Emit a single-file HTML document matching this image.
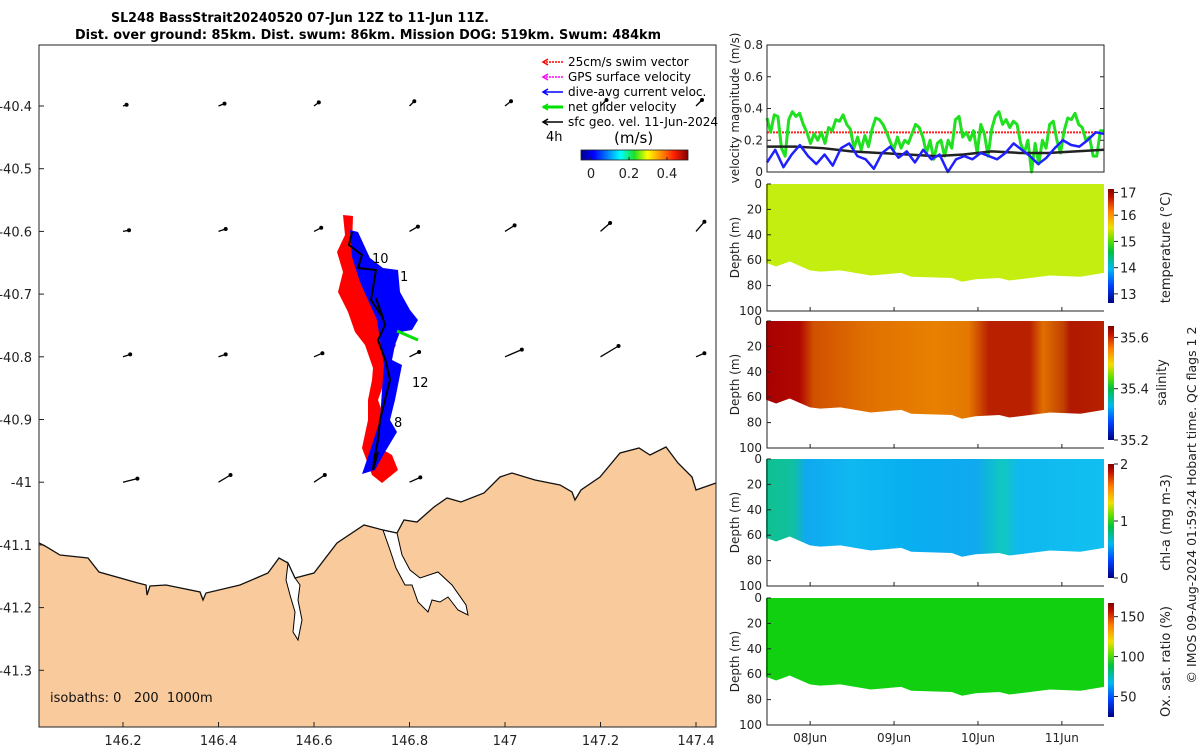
<!DOCTYPE html>
<html><head><meta charset="utf-8"><style>
body{margin:0;background:#fff;}
svg{display:block;font-family:"DejaVu Sans","Liberation Sans",sans-serif;}
</style></head><body>
<svg id="s" width="1200" height="750" viewBox="0 0 1200 750" xmlns="http://www.w3.org/2000/svg">
<defs>
<linearGradient id="jetH" x1="0" x2="1" y1="0" y2="0">
<stop offset="0" stop-color="#00008f"/><stop offset=".12" stop-color="#0000ff"/><stop offset=".37" stop-color="#00ffff"/><stop offset=".5" stop-color="#20e020"/><stop offset=".62" stop-color="#ffff00"/><stop offset=".87" stop-color="#ff2000"/><stop offset="1" stop-color="#800000"/>
</linearGradient>
<linearGradient id="jetV" x1="0" x2="0" y1="1" y2="0">
<stop offset="0" stop-color="#000080"/><stop offset=".15" stop-color="#0040ff"/><stop offset=".3" stop-color="#00b8f0"/><stop offset=".45" stop-color="#00c040"/><stop offset=".55" stop-color="#60e000"/><stop offset=".66" stop-color="#f0e000"/><stop offset=".8" stop-color="#ff8000"/><stop offset=".93" stop-color="#c01000"/><stop offset="1" stop-color="#800000"/>
</linearGradient>
<linearGradient id="salG" x1="0" x2="1" y1="0" y2="0">
<stop offset="0" stop-color="#a80000"/><stop offset=".1" stop-color="#b00800"/><stop offset=".14" stop-color="#d05000"/><stop offset=".3" stop-color="#e07000"/><stop offset=".5" stop-color="#e88000"/><stop offset=".6" stop-color="#e47800"/><stop offset=".66" stop-color="#b82000"/><stop offset=".78" stop-color="#b82000"/><stop offset=".82" stop-color="#e07000"/><stop offset=".88" stop-color="#c04000"/><stop offset=".9" stop-color="#b01800"/><stop offset="1" stop-color="#b82000"/>
</linearGradient>
<linearGradient id="chlG" x1="0" x2="1" y1="0" y2="0">
<stop offset="0" stop-color="#10c090"/><stop offset=".08" stop-color="#10c0a0"/><stop offset=".12" stop-color="#10a8f0"/><stop offset=".25" stop-color="#10b8f0"/><stop offset=".4" stop-color="#08b0f0"/><stop offset=".62" stop-color="#10a8f0"/><stop offset=".7" stop-color="#10c8c0"/><stop offset=".75" stop-color="#10b8f0"/><stop offset="1" stop-color="#10c0f0"/>
</linearGradient>
</defs>
<g id="map"></g>
<g id="right"></g>
</svg>
<script>
const NS="http://www.w3.org/2000/svg";
function mk(parent,tag,attrs,text){const e=document.createElementNS(NS,tag);for(const k in attrs)e.setAttribute(k,attrs[k]);if(text!==undefined)e.textContent=text;parent.appendChild(e);return e;}
const S=document.getElementById('s');
const M=document.getElementById('map');
const R=document.getElementById('right');

// ---------- map data ----------
const latTicks=[-40.4,-40.5,-40.6,-40.7,-40.8,-40.9,-41,-41.1,-41.2,-41.3];
const lonTicks=[146.2,146.4,146.6,146.8,147,147.2,147.4];
const vecLons=[146.2,146.4,146.6,146.8,147.0,147.2,147.4];
const vecLats=[-40.4,-40.6,-40.8,-41.0];
const vecU=[[0.03,0.05,0.04,0.04,0.05,0.05,0.05],[0.05,0.06,0.06,0.07,0.08,0.08,0.07],[0.06,0.06,0.07,0.08,0.14,0.15,0.07],[0.12,0.1,0.09,0.09,0,0,0]];
const vecV=[[0.01,0.02,0.03,0.04,0.04,0.05,0.05],[0.01,0.02,0.03,0.04,0.05,0.07,0.08],[0.02,0.02,0.03,0.04,0.06,0.09,0.03],[0.03,0.06,0.06,0.04,0,0,0]];

const MX0=39,MX1=716,MY0=45,MY1=727;
const lonX=lo=>123+(lo-146.2)/0.2*95.5;
const latY=la=>106+(-40.4-la)/0.1*62.7;

const coast=[[39,543],[45,546],[60,555],[88,558],[99,572],[138,583],[146,585],[147,595],[150,586],[166,585],[200,592],[203,600],[206,593],[240,585],[268,573],[279,558],[288,563],[295,578],[314,573],[337,543],[364,525],[383,530],[397,533],[404,520],[417,522],[434,507],[447,498],[461,502],[484,493],[500,477],[512,473],[535,480],[560,485],[572,492],[575,500],[581,490],[600,477],[620,453],[639,448],[650,455],[666,447],[678,463],[692,477],[696,490],[716,483]];

mk(M,'rect',{x:MX0,y:MY0,width:MX1-MX0,height:MY1-MY0,fill:'#fff'});
let d='M'+coast.map(p=>p.join(',')).join(' L')+` L${MX1},${MY1} L${MX0},${MY1} Z`;
const land=mk(M,'path',{d:d,fill:'#f9cb9c',stroke:'none'});


const est1=mk(M,'path',{d:'M383,530 L397,533 L402,555 L410,570 L420,578 L438,572 L452,585 L466,605 L468,615 L458,610 L448,597 L440,602 L432,600 L428,612 L418,602 L412,585 L405,585 L396,568 L390,550 Z',fill:'#fff',stroke:'#000','stroke-width':1});

const est2=mk(M,'path',{d:'M288,563 L295,578 L300,585 L298,600 L302,620 L298,640 L293,632 L295,612 L290,595 L286,580 Z',fill:'#fff',stroke:'#000','stroke-width':1});

mk(M,'path',{d:'M'+coast.map(p=>p.join(',')).join(' L'),fill:'none',stroke:'#111','stroke-width':1.3});

vecLats.forEach((la,i)=>vecLons.forEach((lo,j)=>{
  const u=vecU[i][j],v=vecV[i][j]; if(u===0&&v===0)return;
  const x=lonX(lo),y=latY(la),sc=120;
  const x2=x+u*sc,y2=y-v*sc;
  const g=mk(M,'g',{});
  
  
  mk(g,'line',{x1:x,y1:y,x2:x2,y2:y2,stroke:'#000','stroke-width':1.3});
  mk(g,'circle',{cx:x2,cy:y2,r:2,fill:'#000'});
}));

const red=mk(M,'path',{d:'M343,215 L353,216 L352,245 L368,265 L372,300 L385,330 L396,345 L388,360 L385,380 L378,400 L385,420 L378,440 L380,448 L392,455 L398,470 L382,483 L372,475 L362,448 L368,420 L368,400 L372,380 L373,368 L365,345 L355,332 L348,312 L338,292 L343,272 L337,252 L345,235 Z',fill:'#ff0000'});

const blue=mk(M,'path',{d:'M350,230 L358,232 L370,258 L383,268 L398,270 L400,292 L410,310 L418,320 L412,330 L400,332 L395,345 L392,360 L402,365 L395,400 L390,420 L397,432 L385,452 L375,470 L362,474 L372,445 L380,420 L382,390 L384,365 L380,340 L377,320 L368,300 L360,282 L352,257 Z',fill:'#0000ff'});

const trk=mk(M,'polyline',{points:'352,232 349,245 362,255 358,268 376,270 371,300 383,318 376,298 385,325 378,340 386,362 390,380 385,400 380,420 378,440 374,460 373,470 378,452',fill:'none',stroke:'#000','stroke-width':2});

mk(M,'line',{x1:397,y1:331,x2:418,y2:340,stroke:'#00e000','stroke-width':3});
[['10',372,263],['1',400,281],['12',412,387],['8',394,427]].forEach(t=>{const e=mk(M,'text',{x:t[1],y:t[2],'font-size':13,fill:'#000'},t[0]);});

mk(M,'rect',{x:MX0,y:MY0,width:MX1-MX0,height:MY1-MY0,fill:'none',stroke:'#222','stroke-width':1});
latTicks.forEach(la=>{const y=latY(la);mk(M,'line',{x1:MX0,y1:y,x2:MX0+5,y2:y,stroke:'#222'});
 const t=mk(M,'text',{x:MX0-7,y:y+5,'font-size':13,fill:'#222','text-anchor':'end'},String(la));});
lonTicks.forEach(lo=>{const x=lonX(lo);mk(M,'line',{x1:x,y1:MY1,x2:x,y2:MY1-5,stroke:'#222'});
 const t=mk(M,'text',{x:x,y:745,'font-size':13,fill:'#222','text-anchor':'middle'},String(lo));});
mk(M,'text',{x:50,y:702,'font-size':13,fill:'#111'},'isobaths: 0\u00a0\u00a0\u00a0200\u00a0\u00a01000m');

const t1=mk(S,'text',{x:300,y:22,'font-size':13,'font-weight':'bold','text-anchor':'middle',fill:'#000',textLength:378,lengthAdjust:'spacingAndGlyphs'},'SL248 BassStrait20240520 07-Jun 12Z to 11-Jun 11Z.');

const t2=mk(S,'text',{x:368,y:39,'font-size':13,'font-weight':'bold','text-anchor':'middle',fill:'#000',textLength:586,lengthAdjust:'spacingAndGlyphs'},'Dist. over ground: 85km. Dist. swum: 86km. Mission DOG: 519km. Swum: 484km');


const leg=[['25cm/s swim vector','#ff0000'],['GPS surface velocity','#ff00ff'],['dive-avg current veloc.','#0000ff'],['net glider velocity','#00e000'],['sfc geo. vel. 11-Jun-2024','#000']];
leg.forEach((l,i)=>{const y=62+i*15;const g=mk(S,'g',{});
 mk(g,'line',{x1:543,y1:y,x2:563,y2:y,stroke:l[1],'stroke-width':i===3?3:1.5,'stroke-dasharray':i<2?'2,1':''});
 mk(g,'path',{d:`M548,${y-3} L543,${y} L548,${y+3}`,fill:'none',stroke:l[1],'stroke-width':1.5});
 mk(g,'text',{x:568,y:y+4,'font-size':12,fill:'#000'},l[0]);});
mk(S,'text',{x:546,y:141,'font-size':13,fill:'#000'},'4h');
mk(S,'text',{x:614,y:143,'font-size':15,fill:'#000'},'(m/s)');
mk(S,'rect',{x:581,y:150,width:107,height:10,fill:'url(#jetH)',stroke:'#222','stroke-width':0.8});
[[0,591],[0.2,629],[0.4,667]].forEach(c=>{mk(S,'line',{x1:c[1],y1:160,x2:c[1],y2:157,stroke:'#222'});const t=mk(S,'text',{x:c[1],y:178,'font-size':13,fill:'#222','text-anchor':'middle'},String(c[0]));});

// ---------- right: velocity ----------
const greenV=[0.34,0.25,0.36,0.35,0.15,0.1,0.33,0.38,0.35,0.37,0.3,0.25,0.18,0.24,0.2,0.25,0.18,0.28,0.26,0.33,0.32,0.36,0.3,0.27,0.15,0.22,0.14,0.23,0.16,0.27,0.34,0.33,0.3,0.25,0.19,0.14,0.22,0.15,0.2,0.18,0.24,0.3,0.28,0.22,0.12,0.2,0.08,0.18,0.2,0.1,0.2,0.15,0.33,0.35,0.22,0.25,0.2,0.26,0.12,0.3,0.24,0.1,0.27,0.35,0.38,0.3,0.33,0.28,0.32,0.3,0.18,0.12,0.2,0.0,0.18,0.05,0.2,0.15,0.3,0.32,0.2,0.12,0.26,0.34,0.33,0.37,0.3,0.28,0.2,0.22,0.1,0.1,0.26,0.26];
const blueV=[0.06,0.14,0.03,0.11,0.17,0.1,0.05,0.11,0.04,0.15,0.18,0.1,0.08,0.02,0.12,0.16,0.09,0.13,0.06,0.14,0.08,0.11,0.0,0.08,0.1,0.08,0.12,0.1,0.08,0.12,0.18,0.14,0.1,0.05,0.09,0.15,0.2,0.17,0.16,0.2,0.25,0.24];
const blackV=[0.16,0.16,0.15,0.13,0.12,0.11,0.1,0.11,0.13,0.12,0.12,0.13,0.14];
const swimRef=[0.25];
const velTicks=[0,0.2,0.4,0.6,0.8];
const RX0=767,RX1=1104,VY0=45,VY1=172;
const vy=v=>VY1-v/0.8*(VY1-VY0);
const fx=(i,n)=>RX0+i/(n-1)*(RX1-RX0);
mk(R,'rect',{x:RX0,y:VY0,width:RX1-RX0,height:VY1-VY0,fill:'#fff'});
const rl=mk(R,'line',{x1:RX0,x2:RX1,y1:vy(swimRef[0]),y2:vy(swimRef[0]),stroke:'#ff2020','stroke-width':2,'stroke-dasharray':'2,1'});

function series(arr,col,w,name){const p=mk(R,'polyline',{points:arr.map((v,i)=>fx(i,arr.length)+','+vy(v)).join(' '),fill:'none',stroke:col,'stroke-width':w,'stroke-linejoin':'round'});}
series(greenV,'#20e020',3,'net-glider-speed-line');
series(blackV,'#222',2.5,'geostrophic-speed-line');
series(blueV,'#2020ff',2.5,'current-speed-line');
mk(R,'rect',{x:RX0,y:VY0,width:RX1-RX0,height:VY1-VY0,fill:'none',stroke:'#222'});
velTicks.forEach(v=>{const y=vy(v);mk(R,'line',{x1:RX0,x2:RX0+4,y1:y,y2:y,stroke:'#222'});mk(R,'line',{x1:RX1,x2:RX1-4,y1:y,y2:y,stroke:'#222'});
 const t=mk(R,'text',{x:RX0-4,y:y+4,'font-size':12,fill:'#222','text-anchor':'end'},String(v));});
mk(R,'text',{x:0,y:0,'font-size':12,fill:'#222','text-anchor':'middle',transform:'translate(739,108) rotate(-90)'},'velocity magnitude (m/s)');

// ---------- section panels ----------
const bottomX=[0,0.03,0.07,0.13,0.16,0.22,0.31,0.4,0.43,0.55,0.58,0.62,0.69,0.72,0.84,0.93,1];
const bottomDepth=[62,65,61,68,69,68,72,70,73,74,77,75,74,76,72,73,70];
const depthTicks=[0,20,40,60,80,100];
const dateLabels=['08Jun','09Jun','10Jun','11Jun'];
const dateFrac=[0.128,0.377,0.626,0.875];
const panels=[
 {top:184,fill:'#c4ee10',cb:['13','14','15','16','17'],cbFr:[0.08,0.31,0.54,0.77,0.97],title:'temperature (°C)',name:'temperature'},
 {top:321,fill:'url(#salG)',cb:['35.2','35.4','35.6'],cbFr:[0,0.45,0.9],title:'salinity',name:'salinity'},
 {top:459,fill:'url(#chlG)',cb:['0','1','2'],cbFr:[0,0.5,1],title:'chl-a (mg m-3)',name:'chlorophyll'},
 {top:598,fill:'#10d010',cb:['50','100','150'],cbFr:[0.18,0.53,0.88],title:'Ox. sat. ratio (%)',name:'oxygen'}];
const PH=127;
panels.forEach(p=>{
 const g=mk(R,'g',{});
 const dy=v=>p.top+v/100*PH;
 let pts=`M${RX0-1},${dy(0)} L${RX1},${dy(0)} `;
 for(let i=bottomX.length-1;i>=0;i--)pts+=`L${RX0-1+bottomX[i]*(RX1-RX0+1)},${dy(bottomDepth[i])} `;
 const f=mk(g,'path',{d:pts+'Z',fill:p.fill});
 mk(g,'path',{d:`M${RX0},${p.top} L${RX0},${p.top+PH} L${RX1},${p.top+PH}`,fill:'none',stroke:'#222'});
 depthTicks.forEach(v=>{const y=dy(v);mk(g,'line',{x1:RX0,x2:RX0+4,y1:y,y2:y,stroke:'#222'});
  const t=mk(g,'text',{x:RX0-5,y:y+4,'font-size':12,fill:'#222','text-anchor':'end'},String(v));});
 mk(g,'text',{x:0,y:0,'font-size':12,fill:'#222','text-anchor':'middle',transform:`translate(739,${p.top+PH/2}) rotate(-90)`},'Depth (m)');
 dateFrac.forEach(fr=>{const x=RX0+fr*(RX1-RX0);mk(g,'line',{x1:x,x2:x,y1:p.top+PH,y2:p.top+PH-4,stroke:'#222'});});
 const cy0=p.top+5,cy1=p.top+PH-8;
 mk(g,'rect',{x:1108,y:cy0,width:6,height:cy1-cy0,fill:'url(#jetV)'});
 p.cb.forEach((c,i)=>{const y=cy1-p.cbFr[i]*(cy1-cy0);mk(g,'line',{x1:1114,x2:1118,y1:y,y2:y,stroke:'#222'});
  const t=mk(g,'text',{x:1120,y:y+5,'font-size':13,fill:'#222'},c);});
 const tx=p.name==='salinity'?1166:1170;
 mk(g,'text',{x:0,y:0,'font-size':13,fill:'#222','text-anchor':'middle',transform:`translate(${tx},${p.top+PH/2+ (p.name==='salinity'?-2:0)}) rotate(-90)`},p.title);
});
dateLabels.forEach((l,i)=>{const t=mk(R,'text',{x:RX0+dateFrac[i]*(RX1-RX0),y:742,'font-size':12,fill:'#222','text-anchor':'middle'},l);});
mk(R,'text',{x:0,y:0,'font-size':12.5,fill:'#222','text-anchor':'middle',transform:'translate(1196,505) rotate(-90)'},'© IMOS 09-Aug-2024 01:59:24 Hobart time. QC flags 1  2');
</script>
</body></html>
